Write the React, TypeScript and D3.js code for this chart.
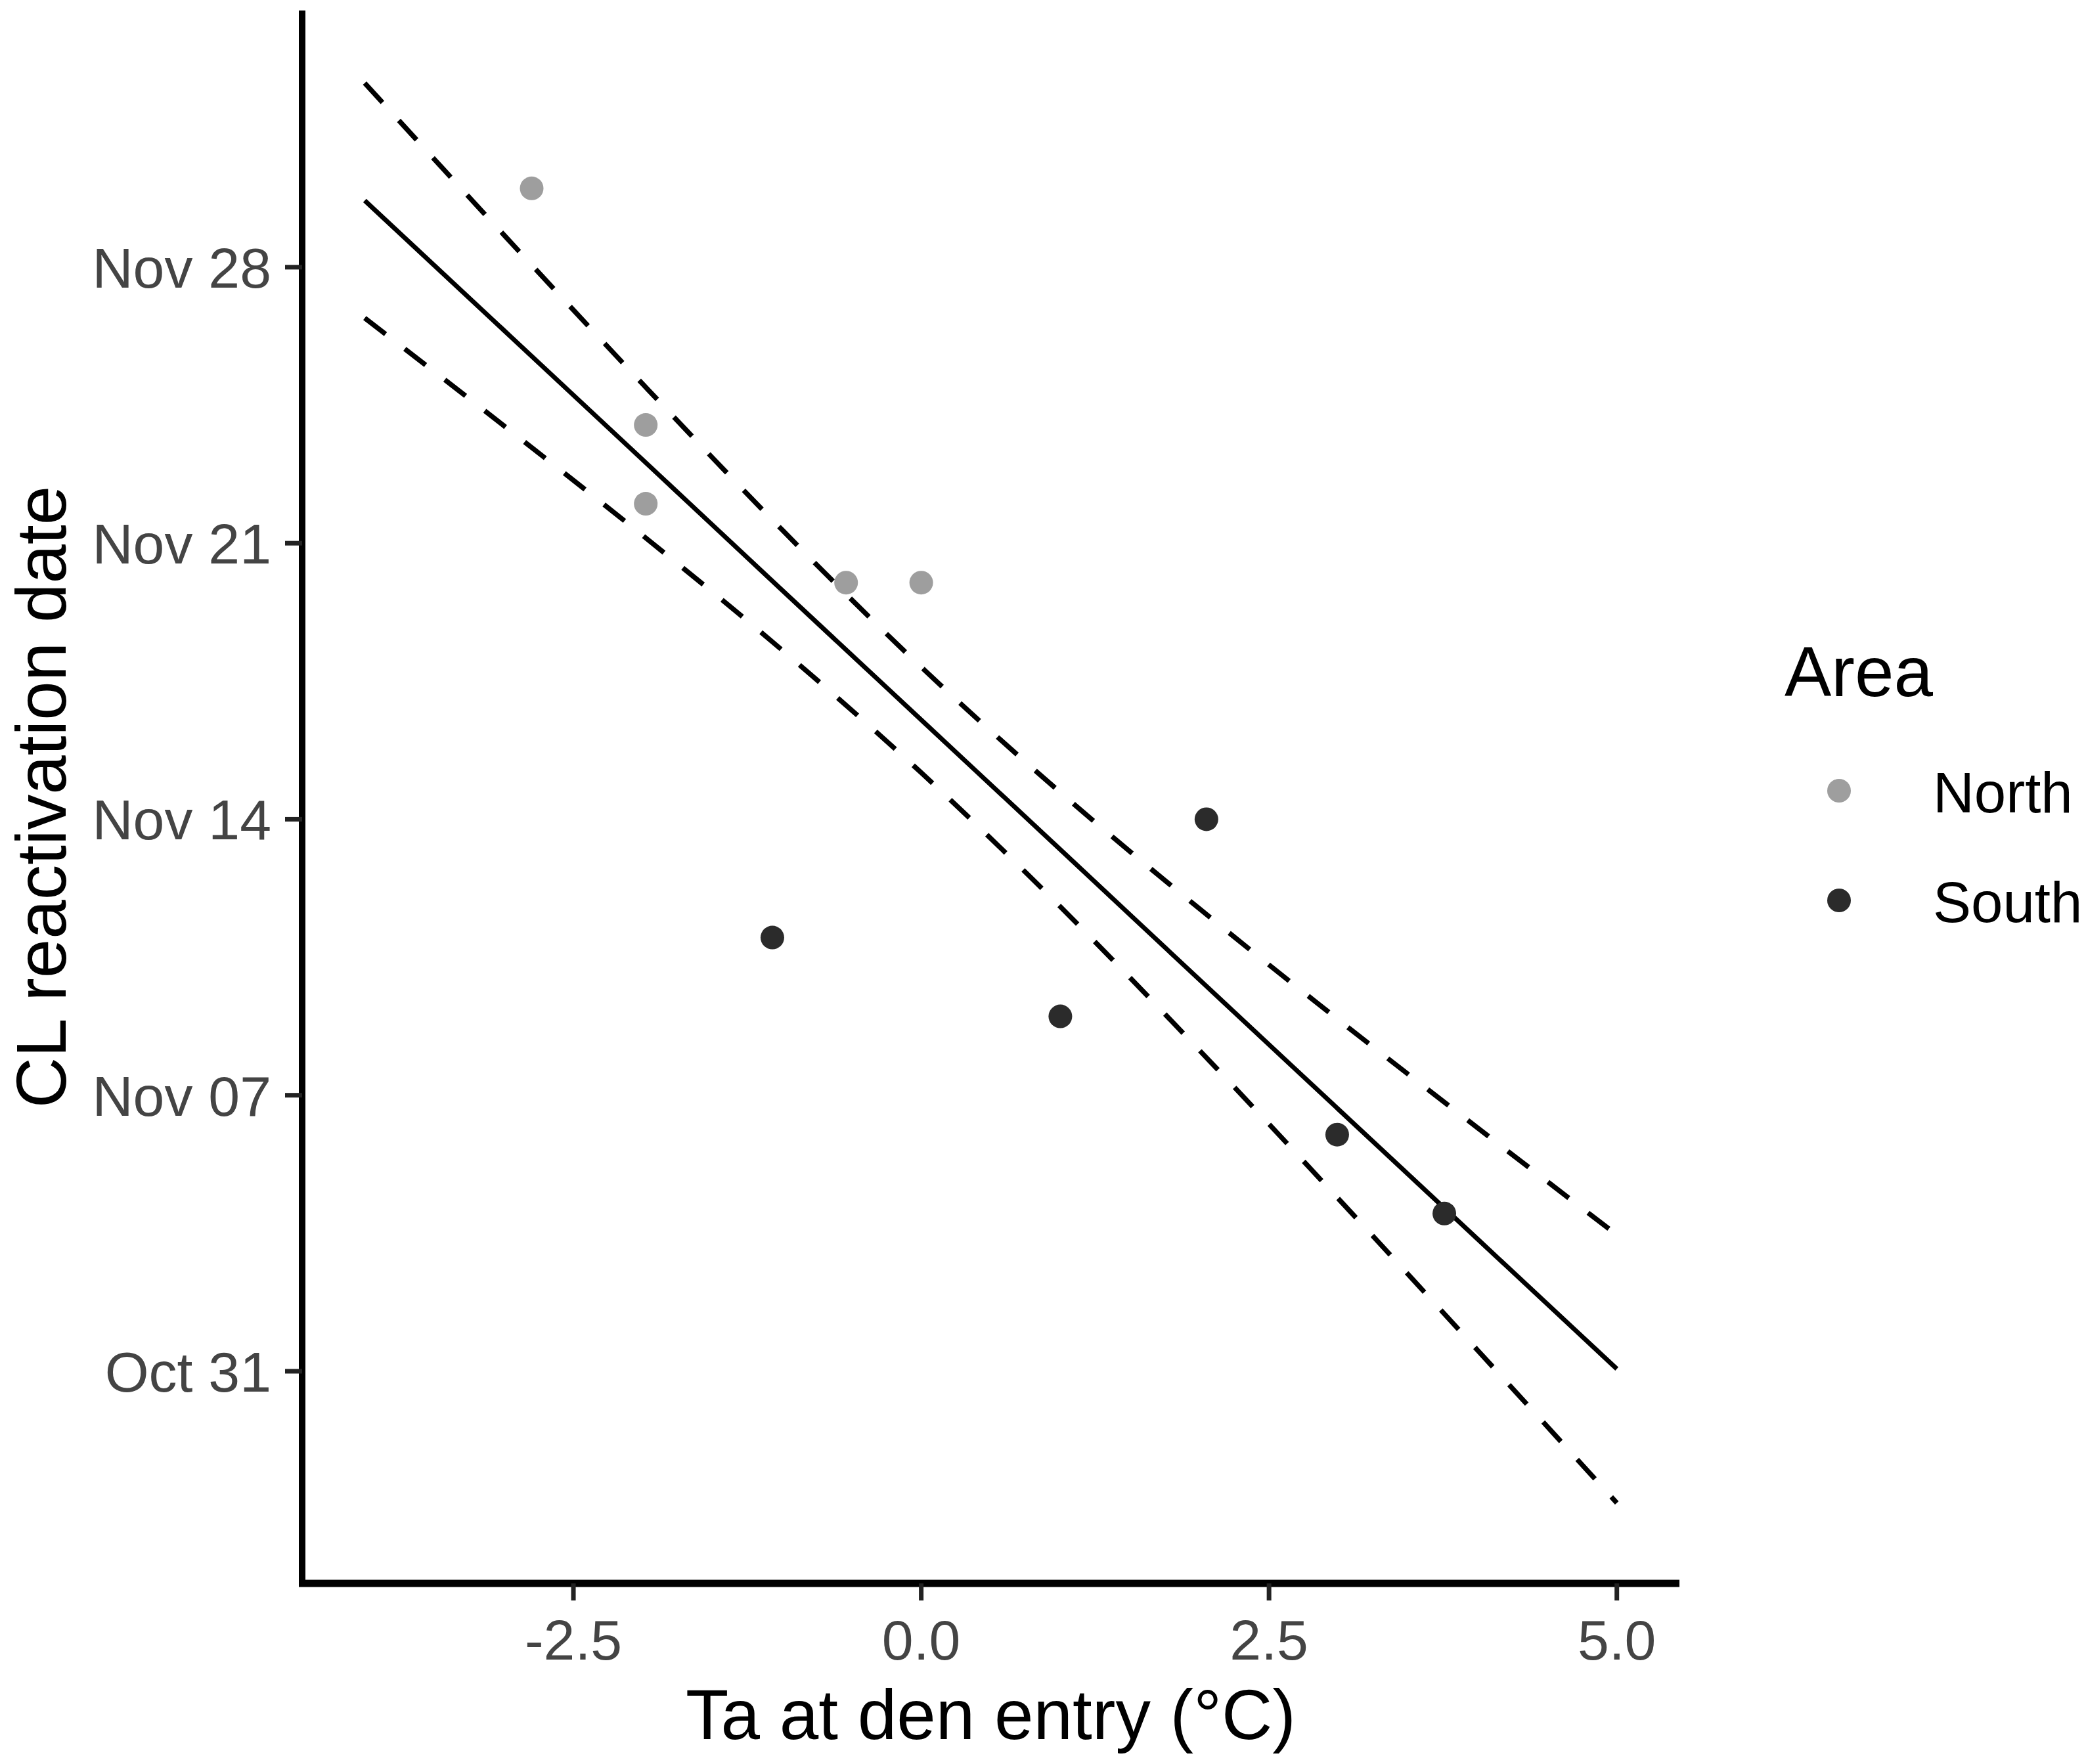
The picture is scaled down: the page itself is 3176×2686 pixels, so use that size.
import * as d3 from "d3";

// Ta at den entry (°C) and CL reactivation date, per area
const northTemp = [-2.8, -1.98, -1.98, -0.54, 0.0];
const northDate = ["Nov 30", "Nov 24", "Nov 22", "Nov 20", "Nov 20"];
const southTemp = [-1.07, 1.0, 2.05, 2.99, 3.76];
const southDate = ["Nov 11", "Nov 09", "Nov 14", "Nov 06", "Nov 04"];

// fitted line and dashed confidence limits, in days after Oct 31
const lineTemp = [-4, -3, -2, -1, 0, 1, 2, 3, 4, 5];
const fitDays = [29.69, 26.4, 23.11, 19.81, 16.52, 13.23, 9.93, 6.64, 3.35, 0.06];
const upperDays = [32.67, 28.82, 25.03, 21.34, 17.86, 14.68, 11.73, 8.91, 6.17, 3.46];
const lowerDays = [26.71, 23.98, 21.19, 18.29, 15.18, 11.78, 8.14, 4.37, 0.53, -3.34];

const xTicks = [-2.5, 0, 2.5, 5];
const yTickLabels = ["Oct 31", "Nov 07", "Nov 14", "Nov 21", "Nov 28"];

const areas = ["North", "South"];
const areaColors = ["#9e9e9e", "#2b2b2b"];

const FONT = "'Liberation Sans', Arial, sans-serif";

export default function App() {
  const width = 3176;
  const height = 2686;
  const plot = { left: 460, right: 2557, top: 16, bottom: 2411 };

  const parse = d3.utcParse("%b %d %Y");
  const toDate = (s: string) => parse(`${s} 2019`) as Date;
  const origin = toDate("Oct 31");
  const dayOffset = (d: number) => new Date(origin.getTime() + d * 864e5);

  const [t0, t1] = d3.extent(lineTemp) as [number, number];
  const pad = (t1 - t0) * 0.05;
  const x = d3.scaleLinear().domain([t0 - pad, t1 + pad]).range([plot.left, plot.right]);
  const y = d3
    .scaleUtc()
    .domain([dayOffset(-5.38), dayOffset(34.51)])
    .range([plot.bottom, plot.top]);

  const fmtX = d3
    .formatLocale({ decimal: ".", thousands: ",", grouping: [3], currency: ["", ""], minus: "-" })
    .format(".1f");
  const fmtY = d3.utcFormat("%b %d");

  const line = d3
    .line<number>()
    .x((_, i) => x(lineTemp[i]))
    .y((d) => y(dayOffset(d)))
    .curve(d3.curveMonotoneX);

  const color = d3.scaleOrdinal<string, string>().domain(areas).range(areaColors);

  const points = [
    ...northTemp.map((t, i) => ({ t, date: toDate(northDate[i]), area: "North" })),
    ...southTemp.map((t, i) => ({ t, date: toDate(southDate[i]), area: "South" })),
  ];

  const legendY = d3.scalePoint<string>().domain(areas).range([1204, 1371]);

  return (
    <svg
      width={width}
      height={height}
      style={{ position: "absolute", left: 0, top: 0, background: "#fff" }}
      fontFamily={FONT}
    >
      <rect width={width} height={height} fill="#fff" />

      {/* lines */}
      <path d={line(upperDays) ?? ""} fill="none" stroke="#000" strokeWidth={7.5} strokeDasharray="40 37" />
      <path d={line(lowerDays) ?? ""} fill="none" stroke="#000" strokeWidth={7.5} strokeDasharray="40 37" />
      <path d={line(fitDays) ?? ""} fill="none" stroke="#000" strokeWidth={7} />

      {/* points */}
      {points.map((p, i) => (
        <circle key={i} cx={x(p.t)} cy={y(p.date)} r={18} fill={color(p.area)} />
      ))}

      {/* y axis */}
      <line x1={plot.left} x2={plot.left} y1={plot.top} y2={plot.bottom + 5} stroke="#000" strokeWidth={10} />
      {yTickLabels.map((s) => {
        const d = toDate(s);
        const yy = y(d);
        return (
          <g key={s}>
            <line x1={plot.left - 26} x2={plot.left} y1={yy} y2={yy} stroke="#222" strokeWidth={7} />
            <text x={413} y={yy + 31} textAnchor="end" fontSize={86} fill="#444">
              {fmtY(d)}
            </text>
          </g>
        );
      })}

      {/* x axis */}
      <line x1={plot.left - 5} x2={plot.right} y1={plot.bottom} y2={plot.bottom} stroke="#000" strokeWidth={11} />
      {xTicks.map((t) => (
        <g key={t}>
          <line x1={x(t)} x2={x(t)} y1={plot.bottom} y2={plot.bottom + 26} stroke="#222" strokeWidth={7} />
          <text x={x(t)} y={2527} textAnchor="middle" fontSize={86} fill="#444">
            {fmtX(t)}
          </text>
        </g>
      ))}

      {/* axis titles */}
      <text x={(plot.left + plot.right) / 2} y={2648} textAnchor="middle" fontSize={107} fill="#000">
        Ta at den entry (°C)
      </text>
      <text
        transform={`translate(100, ${(plot.top + plot.bottom) / 2}) rotate(-90)`}
        textAnchor="middle"
        fontSize={107}
        fill="#000"
      >
        CL reactivation date
      </text>

      {/* legend */}
      <text x={2717} y={1060} fontSize={107} fill="#000">
        Area
      </text>
      {areas.map((a) => (
        <g key={a}>
          <circle cx={2800} cy={legendY(a)} r={18} fill={color(a)} />
          <text x={2943} y={(legendY(a) ?? 0) + 33} fontSize={87} fill="#000">
            {a}
          </text>
        </g>
      ))}
    </svg>
  );
}
